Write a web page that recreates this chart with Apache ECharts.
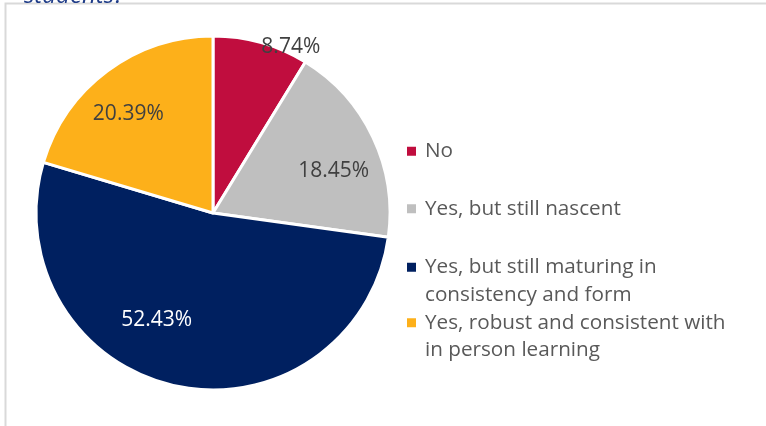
<!DOCTYPE html>
<html>
<head>
<meta charset="utf-8">
<script src="https://cdn.jsdelivr.net/npm/echarts@6/dist/echarts.min.js"></script>
<style>
html,body{margin:0;padding:0;background:#fff;}
#chart{width:766px;height:426px;}
</style>
</head>
<body>
<div id="chart"></div>
<script>
const categories = ["No", "Yes, but still nascent", "Yes, but still maturing in\nconsistency and form", "Yes, robust and consistent with\nin person learning"];
const values = [8.74, 18.45, 52.43, 20.39];
const colors = ["#C00D3E", "#BFBFBF", "#002060", "#FDB01A"];
const labelColors = ["#404040", "#404040", "#FFFFFF", "#404040"];
const titleText = "students?";

const FONT = "Open Sans";
const labelOffsets = [[53, -78], [38, -3], [-37, 18], [-30, -26]];
const legendTops = [137.5, 195, 226, 281.5];

const chart = echarts.init(document.getElementById('chart'), null, {renderer: 'canvas'});

const legends = categories.map((name, i) => {
  const twoLine = name.indexOf('\n') >= 0;
  return {
    orient: 'vertical',
    left: 407,
    top: legendTops[i],
    padding: 0,
    icon: 'rect',
    itemWidth: 9,
    itemHeight: 9,
    selectedMode: false,
    formatter: n => (twoLine ? '\n' + n : n),
    data: [{name: name, itemStyle: {borderWidth: 0}}],
    textStyle: {
      fontFamily: FONT,
      fontSize: 20.7,
      color: '#595959',
      lineHeight: 27.5,
      padding: [0, 0, 0, 4]
    }
  };
});

chart.setOption({
  animation: false,
  backgroundColor: '#fff',
  graphic: [
    {type: 'rect', shape: {x: 5.5, y: 3.5, width: 800, height: 500}, style: {fill: 'none', stroke: '#D9D9D9', lineWidth: 2}, z: 0},
    {type: 'text', left: 24, top: -15.5, style: {text: titleText, font: 'italic 24px "Open Sans"', fill: '#1F3C88'}, z: 10}
  ],
  legend: legends,
  series: [{
    type: 'pie',
    center: [213, 213],
    radius: [0, 177],
    startAngle: 90,
    clockwise: true,
    avoidLabelOverlap: false,
    itemStyle: {borderColor: '#fff', borderWidth: 3},
    label: {
      show: true,
      position: 'inside',
      fontFamily: FONT,
      fontSize: 21,
      formatter: p => values[p.dataIndex].toFixed(2) + '%'
    },
    labelLayout: function (params) {
      const o = labelOffsets[params.dataIndex];
      return {dx: o[0], dy: o[1]};
    },
    labelLine: {show: false},
    emphasis: {disabled: true},
    data: categories.map((c, i) => ({
      name: c,
      value: values[i],
      itemStyle: {color: colors[i]},
      label: {color: labelColors[i]}
    }))
  }]
});
</script>
</body>
</html>
